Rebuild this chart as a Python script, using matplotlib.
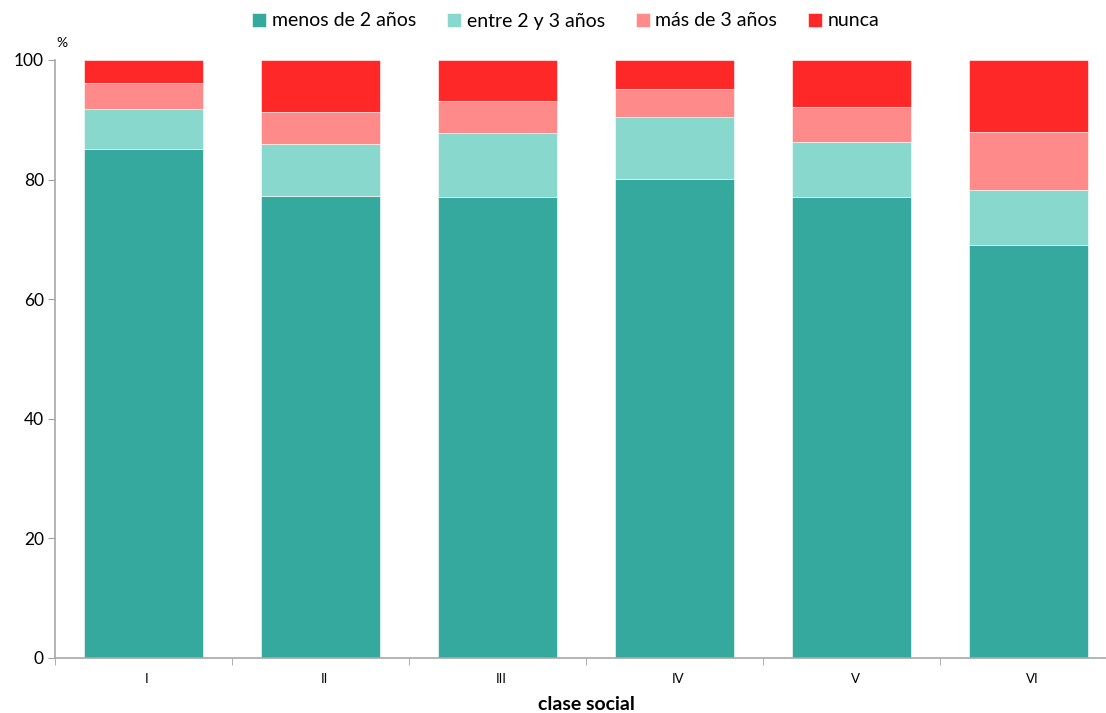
import matplotlib.pyplot as plt
import numpy as np

plt.rcParams['font.family'] = ['Lato', 'DejaVu Sans']

# datos (porcentaje acumulado)
clases = ['I', 'II', 'III', 'IV', 'V', 'VI']
menos_2 = [85.1, 77.3, 77.1, 80.1, 77.1, 69.0]
entre_2_3 = [6.7, 8.7, 10.7, 10.4, 9.2, 9.2]
mas_3 = [4.4, 5.3, 5.3, 4.7, 5.8, 9.7]
nunca = [3.8, 8.7, 6.9, 4.8, 7.9, 12.1]

series = [
    ('menos de 2 años', menos_2, '#36A99E'),
    ('entre 2 y 3 años', entre_2_3, '#88D8CE'),
    ('más de 3 años', mas_3, '#FF8A8A'),
    ('nunca', nunca, '#FF2828'),
]

fig = plt.figure(figsize=(11.06, 7.13), dpi=100)
ax = fig.add_axes([55 / 1106, 1 - 658 / 713, 1062 / 1106, 598 / 713])

x = np.arange(len(clases))
bottom = np.zeros(len(clases))
for label, vals, color in series:
    ax.bar(x, vals, 0.667, bottom=bottom, color=color, label=label,
           edgecolor='white', linewidth=0.4)
    bottom += np.array(vals)

ax.set_xlim(-0.5, len(clases) - 0.5)
ax.set_ylim(0, 100)
ax.set_yticks(range(0, 101, 20))
ax.set_xticks(x + 0.02)
ax.set_xticklabels(clases, fontsize=9.5)
ax.set_xticks(np.arange(-0.5, len(clases), 1), minor=True)
ax.tick_params(axis='x', which='major', length=0, pad=11)
ax.tick_params(axis='x', which='minor', length=5, color='#A0A0A0')
ax.tick_params(axis='y', length=5, color='#A0A0A0', labelsize=12.5, pad=3)

for s in ['top', 'right']:
    ax.spines[s].set_visible(False)
for s in ['left', 'bottom']:
    ax.spines[s].set_color('#A8A8A8')
    ax.spines[s].set_linewidth(1.2)

fig.text(586 / 1106, 1 - 705 / 713, 'clase social', ha='center', va='center',
         fontsize=14, fontweight='bold')
fig.text(62 / 1106, 1 - 43 / 713, '%', ha='center', va='center', fontsize=10)

fig.legend(loc='center', bbox_to_anchor=(566 / 1106, 1 - 21 / 713), ncol=4,
           frameon=False, fontsize=14, handlelength=0.7, handleheight=0.7,
           handletextpad=0.3, columnspacing=1.6)

fig.savefig('out.png', dpi=100)
